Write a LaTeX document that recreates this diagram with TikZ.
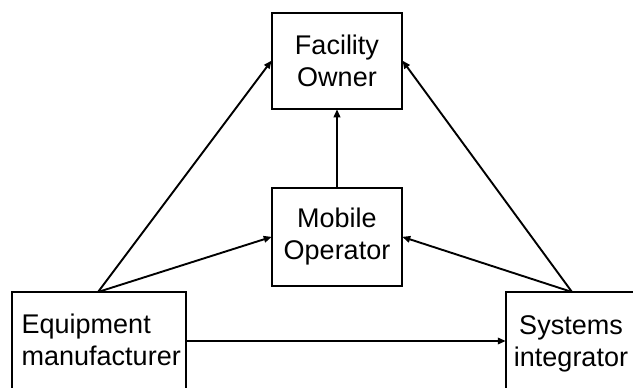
\documentclass[tikz,border=0pt]{standalone}
\usepackage{fontspec}
\setmainfont{Liberation Sans}
\usetikzlibrary{arrows.meta}
\begin{document}
\begin{tikzpicture}[x=1pt,y=-1pt,
  box/.style={draw, line width=1.5pt, inner sep=0pt, align=center,
    font=\fontsize{27}{32}\selectfont},
  lbl/.style={inner sep=0pt, font=\fontsize{27}{32}\selectfont},
  flow/.style={line width=1.9pt, -{Triangle[length=8pt,width=6.5pt]}, shorten >=-0.5pt}]
  \useasboundingbox (0,0) rectangle (633,388);
  \clip (0,0) rectangle (633,388);

  % boxes
  \node[box, minimum width=130, minimum height=96] (fo) at (337,61) {Facility\\Owner};
  \node[box, minimum width=130, minimum height=98] (mo) at (337,237) {Mobile\\Operator};
  \node[box, minimum width=174, minimum height=98] (eq) at (99,341) {};
  \node[box, minimum width=130, minimum height=98] (sy) at (571,341) {};

  % labels of the lower boxes
  \node[lbl, align=left, anchor=west] (eqtxt) at (21.5,340.3) {Equipment\\manufacturer};
  \node[lbl, align=center] (sytxt) at (571,344) {Systems\\integrator};

  % departure points on the top edges of the lower boxes
  \coordinate (eqtop) at (98,292);
  \coordinate (sytop) at (572,292);

  % connectors
  \draw[flow] (eqtop) -- (fo.west);
  \draw[flow] (eqtop) -- (mo.west);
  \draw[flow] (sytop) -- (fo.east);
  \draw[flow] (sytop) -- (mo.east);
  \draw[flow] (mo.north) -- (fo.south);
  \draw[flow] (eq.east) -- (sy.west);
\end{tikzpicture}
\end{document}
